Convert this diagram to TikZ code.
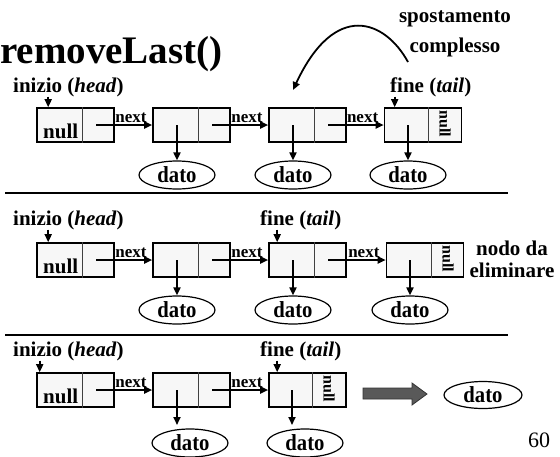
\documentclass[tikz,border=0pt]{standalone}
\usepackage{fontspec}
\setmainfont{Liberation Serif}
\newfontfamily\narrowserif[FakeStretch=0.9]{Liberation Serif}
\usetikzlibrary{arrows.meta,shapes.geometric}
\begin{document}
\begin{tikzpicture}[x=1pt,y=-1pt,
  lab/.style={font=\fontsize{21}{24}\selectfont\bfseries, inner sep=0pt},
  nextlab/.style={font=\fontsize{17}{20}\selectfont\bfseries, inner sep=1pt},
  cell/.style={draw, line width=1.6pt, fill=black!3, minimum width=77pt, minimum height=34pt, inner sep=0pt},
  datum/.style={ellipse, draw, line width=1.2pt, fill=white, minimum width=76pt, minimum height=28pt, inner sep=0pt, font=\narrowserif\fontsize{23}{26}\selectfont\bfseries},
  ptr/.style={line width=1.8pt, -{Triangle[length=8pt,width=7pt]}},
  divider/.style={line width=0.9pt, black!75},
  rule/.style={line width=1.3pt},
  nullv/.style={font=\fontsize{16}{18}\selectfont\bfseries, rotate=-90, inner sep=0pt},
  nullh/.style={font=\fontsize{21}{24}\selectfont\bfseries, inner sep=0pt}
]
\clip (0,0) rectangle (560,456);

% title
\node[font=\fontsize{39}{44}\selectfont\bfseries, anchor=base west, inner sep=0pt] (title) at (0,63) {removeLast()};

% ---------- first list: before ----------
\node[lab, anchor=base west] (h1) at (13,92) {inizio (\textit{head})};
\node[lab, anchor=base west] (t1) at (390,92) {fine (\textit{tail})};
\node[lab, anchor=base] (s1) at (455,22) {spostamento};
\node[lab, anchor=base] (s2) at (455,52) {complesso};

\node[cell] (a1) at (75.5,125) {};
\node[cell] (a2) at (191.5,125) {};
\node[cell] (a3) at (307.5,125) {};
\node[cell] (a4) at (423,125) {};
\foreach \n/\d in {a1/46,a2/46,a3/46,a4/45}
  \draw[divider] ([xshift=\d pt]\n.north west) -- ([xshift=\d pt]\n.south west);
\node[nullh, anchor=base west] (an) at (43,138) {null};
\node[nullv] (az) at (445,124) {null};

\draw[ptr] ([xshift=60pt]a1.west) -- node[nextlab, above, pos=0.62]{next} (a2.west);
\draw[ptr] ([xshift=60pt]a2.west) -- node[nextlab, above, pos=0.62]{next} (a3.west);
\draw[ptr] ([xshift=60pt]a3.west) -- node[nextlab, above, pos=0.62]{next} (a4.west);

\node[datum] (ad2) at (177,175) {dato};
\node[datum] (ad3) at (293,175) {dato};
\node[datum] (ad4) at (408,175) {dato};
\draw[ptr] (ad2.north |- a2.center) -- (ad2.north);
\draw[ptr] (ad3.north |- a3.center) -- (ad3.north);
\draw[ptr] (ad4.north |- a4.center) -- (ad4.north);

\draw[ptr] ([xshift=12pt]a1.north west |- h1.south) -- ([xshift=12pt]a1.north west);
\draw[ptr] ([xshift=11pt]a4.north west |- t1.south) -- ([xshift=11pt]a4.north west);

\coordinate (mvfrom) at (408,62);
\coordinate (mvto) at (293,90);
\draw[ptr] (mvfrom) .. controls (385,20) and (335,0) .. (mvto);

\draw[rule] (5,193) -- (508,193);

% ---------- second list: tail moved back ----------
\node[lab, anchor=base west] (h2) at (13,225) {inizio (\textit{head})};
\node[lab, anchor=base west] (t2) at (260,225) {fine (\textit{tail})};
\node[lab, anchor=base] (e1) at (512,255) {nodo da};
\node[lab, anchor=base] (e2) at (512,277) {eliminare};

\node[cell] (b1) at (75.5,260) {};
\node[cell] (b2) at (191.5,260) {};
\node[cell] (b3) at (307.5,260) {};
\node[cell] (b4) at (425,260) {};
\foreach \n/\d in {b1/46,b2/46,b3/46,b4/46}
  \draw[divider] ([xshift=\d pt]\n.north west) -- ([xshift=\d pt]\n.south west);
\node[nullh, anchor=base west] (bn) at (43,273) {null};
\node[nullv] (bz) at (448,259) {null};

\draw[ptr] ([xshift=60pt]b1.west) -- node[nextlab, above, pos=0.62]{next} (b2.west);
\draw[ptr] ([xshift=60pt]b2.west) -- node[nextlab, above, pos=0.62]{next} (b3.west);
\draw[ptr] ([xshift=60pt]b3.west) -- node[nextlab, above, pos=0.62]{next} (b4.west);

\node[datum] (bd2) at (177,310) {dato};
\node[datum] (bd3) at (293,310) {dato};
\node[datum] (bd4) at (410,310) {dato};
\draw[ptr] (bd2.north |- b2.center) -- (bd2.north);
\draw[ptr] (bd3.north |- b3.center) -- (bd3.north);
\draw[ptr] (bd4.north |- b4.center) -- (bd4.north);

\draw[ptr] ([xshift=12pt]b1.north west |- h2.south) -- ([xshift=12pt]b1.north west);
\draw[ptr] ([xshift=9pt]b3.north west |- t2.south) -- ([xshift=9pt]b3.north west);

\draw[rule] (5,335) -- (508,335);

% ---------- third list: after removal ----------
\node[lab, anchor=base west] (h3) at (13,356) {inizio (\textit{head})};
\node[lab, anchor=base west] (t3) at (260,356) {fine (\textit{tail})};

\node[cell] (c1) at (75.5,390) {};
\node[cell] (c2) at (191.5,390) {};
\node[cell] (c3) at (307.5,390) {};
\foreach \n/\d in {c1/46,c2/46,c3/44}
  \draw[divider] ([xshift=\d pt]\n.north west) -- ([xshift=\d pt]\n.south west);
\node[nullh, anchor=base west] (cn) at (43,403) {null};
\node[nullv] (cz) at (329,389) {null};

\draw[ptr] ([xshift=60pt]c1.west) -- node[nextlab, above, pos=0.62]{next} (c2.west);
\draw[ptr] ([xshift=60pt]c2.west) -- node[nextlab, above, pos=0.62]{next} (c3.west);

\coordinate (cp2) at (177,425);
\coordinate (cp3) at (292,425);
\draw[ptr] (cp2 |- c2.center) -- (cp2);
\draw[ptr] (cp3 |- c3.center) -- (cp3);
\node[datum] (cd2) at (190,443) {dato};
\node[datum] (cd3) at (305,443) {dato};

\draw[ptr] ([xshift=3.5pt]c1.north west |- h3.south) -- ([xshift=3.5pt]c1.north west);
\draw[ptr] ([xshift=9pt]c3.north west |- t3.south) -- ([xshift=9pt]c3.north west);

% removed node's datum handed back
\draw[line width=0.8pt, draw=black!80, fill=black!65]
  (363,388) -- (412,388) -- (412,383) -- (427,394) -- (412,405) -- (412,399) -- (363,399) -- cycle;
\node[datum, minimum width=78pt, minimum height=27pt] (out) at (483,395) {dato};

\node[font=\fontsize{22}{26}\selectfont, anchor=base west, inner sep=0pt] (pg) at (528,447) {60};
\end{tikzpicture}
\end{document}
